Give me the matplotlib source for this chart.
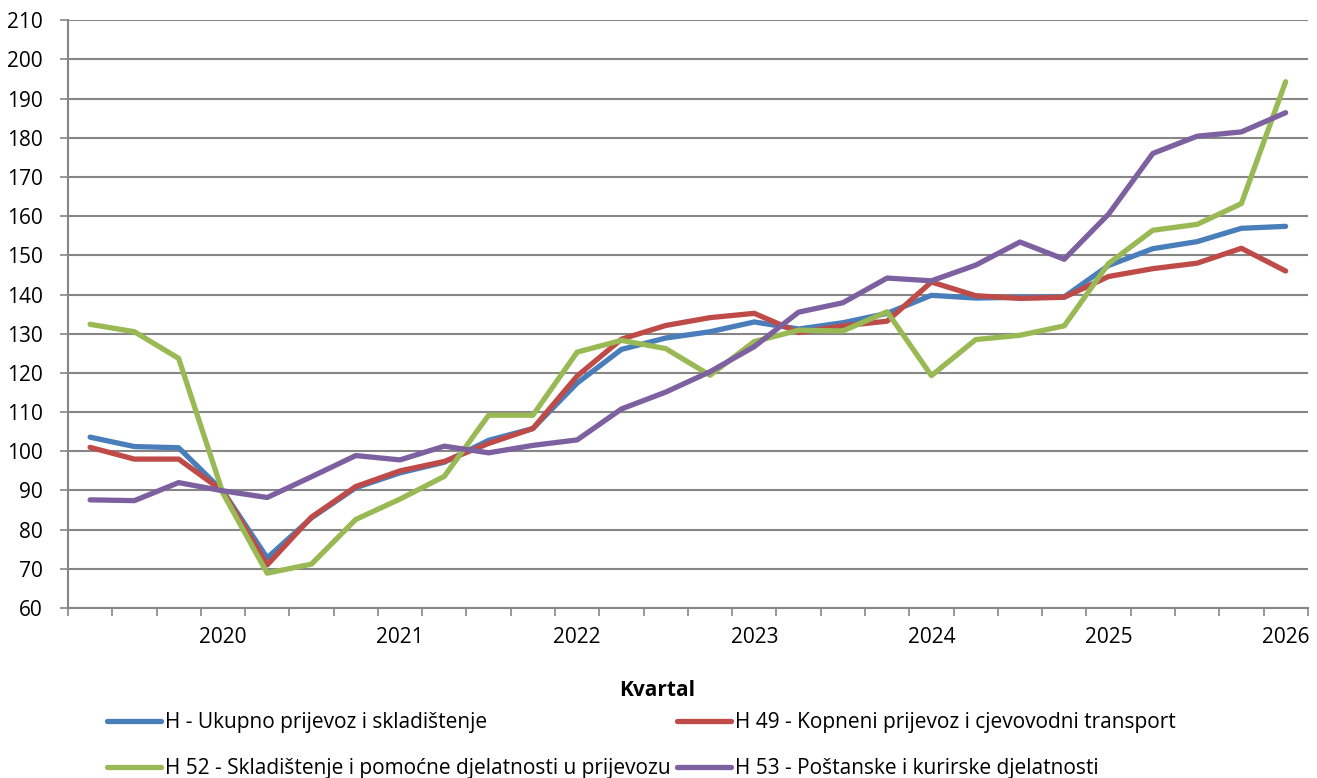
import matplotlib.pyplot as plt
import numpy as np

plt.rcParams['font.family'] = ['Open Sans', 'DejaVu Sans']

# quarterly index values, 28 quarters
years = ['2020', '2021', '2022', '2023', '2024', '2025', '2026']
h_total = [103.6, 101.2, 100.9, 89.8, 72.8, 83.0, 90.7, 94.5, 97.2, 102.8, 105.8, 117.4,
           126.0, 128.9, 130.5, 133.0, 131.2, 132.8, 135.2, 139.8, 139.1, 139.3, 139.4, 147.4,
           151.7, 153.5, 156.9, 157.4]
h49 = [101.0, 98.0, 98.0, 89.8, 71.0, 83.2, 91.0, 95.0, 97.4, 102.0, 105.8, 119.2,
       128.6, 132.1, 134.1, 135.2, 130.3, 132.0, 133.2, 143.2, 139.7, 139.0, 139.3, 144.6,
       146.6, 148.0, 151.8, 146.0]
h52 = [132.4, 130.5, 123.7, 89.3, 68.9, 71.2, 82.6, 87.8, 93.6, 109.2, 109.2, 125.3,
       128.3, 126.2, 119.4, 128.0, 130.9, 130.7, 135.6, 119.3, 128.5, 129.6, 132.0, 147.9,
       156.4, 157.9, 163.2, 194.3]
h53 = [87.6, 87.4, 92.0, 89.9, 88.2, 93.5, 98.9, 97.8, 101.3, 99.6, 101.5, 102.9,
       110.8, 115.1, 120.3, 126.7, 135.5, 137.9, 144.2, 143.5, 147.5, 153.4, 149.0, 160.5,
       176.0, 180.4, 181.5, 186.4]

labels = ['H - Ukupno prijevoz i skladištenje',
          'H 49 - Kopneni prijevoz i cjevovodni transport',
          'H 52 - Skladištenje i pomoćne djelatnosti u prijevozu',
          'H 53 - Poštanske i kurirske djelatnosti']
colors = ['#4A7EBB', '#BE4B48', '#98B954', '#7D60A0']

x = np.arange(len(h_total))
fs = 15

fig = plt.figure(figsize=(13.17, 7.78), dpi=100)
ax = fig.add_axes([0.0516, 0.2185, 0.9414, 0.7555])

lines = []
for y, c, lab in zip([h_total, h49, h52, h53], colors, labels):
    ln, = ax.plot(x, y, color=c, lw=3.8, label=lab, solid_joinstyle='round', solid_capstyle='round', zorder=3)
    lines.append(ln)

ax.set_xlim(-0.5, len(x) - 0.5)
ax.set_ylim(60, 210)
ax.set_yticks(np.arange(60, 211, 10))
ax.yaxis.grid(True, color='#868686', lw=1.5)
ax.set_axisbelow(True)

# boundaries get tick marks, year labels sit on every 4th quarter
ax.set_xticks(np.arange(-0.5, len(x), 1))
ax.set_xticklabels([])
ax.set_xticks(np.arange(3, len(x), 4), minor=True)
ax.set_xticklabels(years, minor=True)
ax.tick_params(axis='x', which='major', length=6, color='#868686', width=1.2)
ax.tick_params(axis='x', which='minor', length=0, pad=14, labelsize=fs)
ax.tick_params(axis='y', length=6, color='#868686', width=1.2, labelsize=fs, pad=12)

for s in ['top', 'right']:
    ax.spines[s].set_visible(False)
for s in ['left', 'bottom']:
    ax.spines[s].set_color('#868686')
    ax.spines[s].set_linewidth(1.5)

fig.text(0.499, 0.112, 'Kvartal', ha='center', va='center', fontsize=fs, fontweight='bold')

order = [0, 2, 1, 3]
fig.legend([lines[i] for i in order], [labels[i] for i in order], ncol=2,
           loc='upper left', bbox_to_anchor=(0.081, 0.085), frameon=False,
           fontsize=fs, handlelength=2.6, handletextpad=0.2, columnspacing=0.3,
           labelspacing=1.2, borderpad=0, borderaxespad=0)

fig.savefig('out.png', dpi=100)
